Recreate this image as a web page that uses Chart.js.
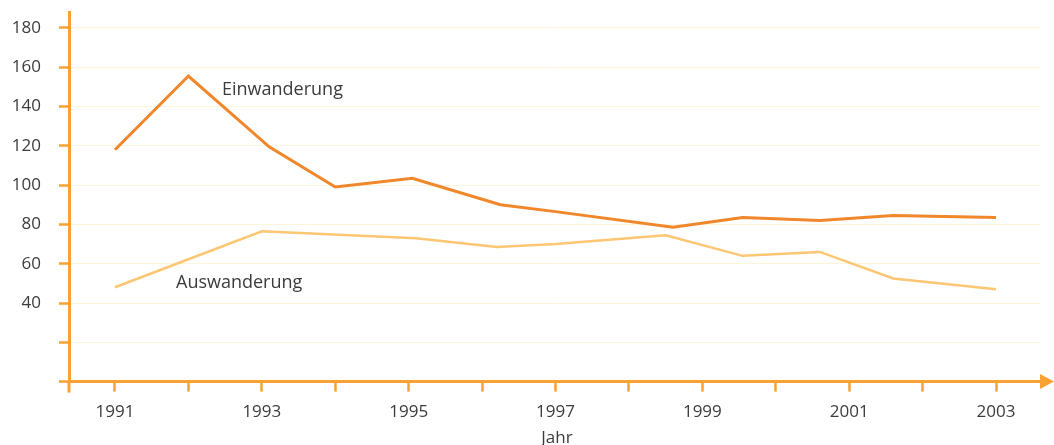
<!DOCTYPE html>
<html>
<head>
<meta charset="utf-8">
<script src="https://cdn.jsdelivr.net/npm/chart.js@4/dist/chart.umd.min.js"></script>
<style>
html,body{margin:0;padding:0;background:#fff;}
#wrap{width:1054px;height:445px;}
</style>
</head>
<body>
<div id="wrap"><canvas id="c" width="1054" height="445"></canvas></div>
<script>
// Data
const einYears = [1991, 1992, 1993.1, 1994, 1995.05, 1996.25, 1997, 1998.6, 1999.55, 2000.6, 2001.6, 2003];
const einValues = [118, 155.5, 119.5, 99, 103.5, 90, 86.5, 78.5, 83.5, 82, 84.5, 83.5];
const ausYears = [1991, 1993, 1995.1, 1996.2, 1997, 1998.5, 1999.55, 2000.6, 2001.6, 2003];
const ausValues = [48, 76.5, 73, 68.5, 70, 74.5, 64, 66, 52.5, 47];
const yearTicks = [1991,1992,1993,1994,1995,1996,1997,1998,1999,2000,2001,2002,2003];
const valueTicks = [0,20,40,60,80,100,120,140,160,180];
const seriesNames = ['Einwanderung', 'Auswanderung'];
const xTitle = 'Jahr';

const AXIS = '#f7a233';
const TXT = '#3d3b3a';
const FONT = "'Open Sans', sans-serif";

const annot = {
  id: 'annot',
  afterDraw(chart) {
    const ctx = chart.ctx;
    const ys = chart.scales.y;
    ctx.save();
    const y0 = ys.getPixelForValue(0);
    ctx.strokeStyle = AXIS; ctx.lineWidth = 3;
    ctx.beginPath(); ctx.moveTo(chart.chartArea.left, y0); ctx.lineTo(chart.chartArea.left, y0 + 11); ctx.stroke();
    ctx.beginPath(); ctx.moveTo(chart.chartArea.right - 2, y0); ctx.lineTo(1042, y0); ctx.stroke();
    ctx.fillStyle = AXIS;
    ctx.beginPath(); ctx.moveTo(1040, y0 - 7.5); ctx.lineTo(1054, y0); ctx.lineTo(1040, y0 + 7.5); ctx.closePath(); ctx.fill();
    ctx.fillStyle = TXT;
    ctx.font = "18px " + FONT;
    ctx.textBaseline = 'alphabetic';
    ctx.textAlign = 'left';
    ctx.fillText(seriesNames[0], 222, 95);
    ctx.fillText(seriesNames[1], 176, 288);
    ctx.font = "17px " + FONT;
    ctx.textAlign = 'center';
    ctx.fillText(xTitle, 557, 443);
    ctx.restore();
  }
};

function zeroPad(s) { s.paddingTop = 0; s.paddingBottom = 0; s.paddingLeft = 0; s.paddingRight = 0; }

new Chart(document.getElementById('c'), {
  type: 'line',
  data: {
    datasets: [
      { label: seriesNames[0], data: einYears.map((x,i)=>({x, y: einValues[i]})), borderColor: '#f0872b', borderWidth: 3, pointRadius: 0, tension: 0, fill: false },
      { label: seriesNames[1], data: ausYears.map((x,i)=>({x, y: ausValues[i]})), borderColor: '#fcc673', borderWidth: 2.5, pointRadius: 0, tension: 0, fill: false }
    ]
  },
  options: {
    responsive: false,
    animation: false,
    layout: { padding: { top: 12, right: 14, left: 0, bottom: 0 } },
    plugins: { legend: { display: false }, tooltip: { enabled: false } },
    scales: {
      x: {
        type: 'linear',
        min: 1990.3735, max: 2003.599,
        afterBuildTicks: s => { s.ticks = yearTicks.map(v => ({ value: v })); },
        afterFit: s => { s.height = 445 - 381.6; zeroPad(s); },
        grid: { drawOnChartArea: false, drawTicks: true, tickLength: 10, tickColor: AXIS, tickWidth: 2.5 },
        border: { display: true, color: AXIS, width: 3 },
        ticks: { color: TXT, font: { family: FONT, size: 17 }, padding: 10, maxRotation: 0, autoSkip: false,
          callback: v => (v % 2 === 1 ? String(v) : '') }
      },
      y: {
        type: 'linear',
        min: 0, max: 188.1,
        afterBuildTicks: s => { s.ticks = valueTicks.map(v => ({ value: v })); },
        afterFit: s => { s.width = 69; zeroPad(s); },
        grid: { drawOnChartArea: true, color: '#fdf4dc', lineWidth: 1, drawTicks: true, tickLength: 10, tickColor: AXIS, tickWidth: 2.5 },
        border: { display: true, color: AXIS, width: 3 },
        ticks: { color: TXT, font: { family: FONT, size: 17 }, padding: 18,
          callback: v => (v >= 40 ? String(v) : '') }
      }
    }
  },
  plugins: [annot]
});
</script>
</body>
</html>
